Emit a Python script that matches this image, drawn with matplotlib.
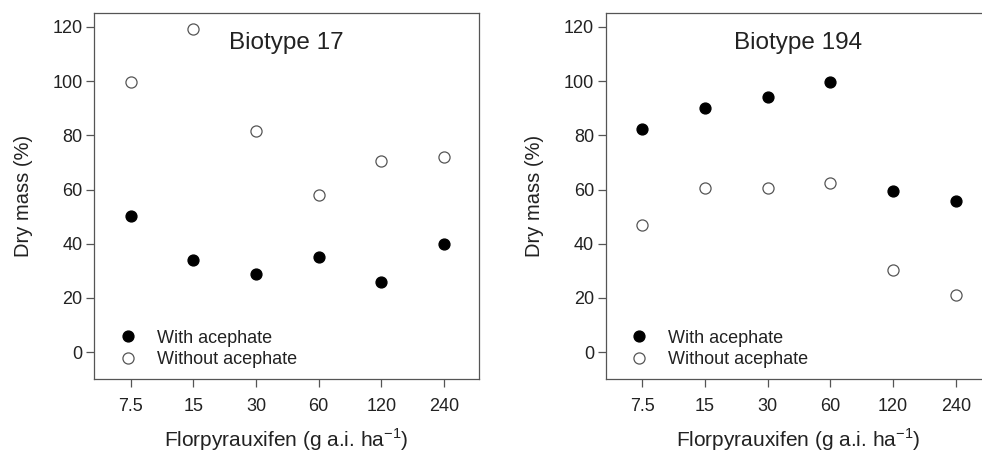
import matplotlib.pyplot as plt

plt.rcParams['font.family'] = ['Liberation Sans', 'DejaVu Sans']

# Data
rates = ['7.5', '15', '30', '60', '120', '240']
b17_with = [50.4, 34.0, 29.0, 35.0, 25.9, 40.0]
b17_without = [99.5, 119.1, 81.6, 58.0, 70.7, 71.9]
b194_with = [82.3, 90.2, 94.1, 99.5, 59.6, 55.8]
b194_without = [46.9, 60.5, 60.4, 62.3, 30.4, 21.1]

panels = [("Biotype 17", b17_with, b17_without, [0.0960, 0.1664, 0.3918, 0.8044]),
          ("Biotype 194", b194_with, b194_without, [0.6168, 0.1664, 0.3922, 0.8044])]

fig = plt.figure(figsize=(9.82, 4.55), dpi=100)
spine_col = '#555555'
text_col = '#222222'

for title, w, wo, pos in panels:
    ax = fig.add_axes(pos)
    x = range(1, len(rates) + 1)
    ax.plot(x, w, 'o', color='black', markersize=7.8, label='With acephate')
    ax.plot(x, wo, 'o', markerfacecolor='white', markeredgecolor='#555555',
            markeredgewidth=0.9, markersize=8, label='Without acephate')
    ax.set_xlim(0.42, 6.56)
    ax.set_ylim(-10, 125)
    ax.set_xticks(list(x))
    ax.set_xticklabels(rates)
    ax.set_yticks([0, 20, 40, 60, 80, 100, 120])
    ax.tick_params(direction='out', length=6, width=0.9, colors=spine_col,
                   labelcolor=text_col, labelsize=13, pad=2.5)
    ax.tick_params(axis='x', pad=7.5)
    for s in ax.spines.values():
        s.set_color(spine_col)
        s.set_linewidth(0.9)
    ax.set_xlabel('Florpyrauxifen (g a.i. ha$^{\\mathregular{-1}}$)', fontsize=15,
                  color=text_col, labelpad=8)
    ax.set_ylabel('Dry mass (%)', fontsize=14.5, color=text_col, labelpad=14)
    ax.text(0.5, 0.92, title, transform=ax.transAxes, ha='center', va='center',
            fontsize=17.5, color=text_col)
    ax.legend(loc='lower left', bbox_to_anchor=(0.064, 0.03), frameon=False,
              fontsize=13, handlelength=1, handletextpad=1.1, labelspacing=0.25,
              borderpad=0, borderaxespad=0, labelcolor=text_col)

plt.savefig('out.png', dpi=100)
